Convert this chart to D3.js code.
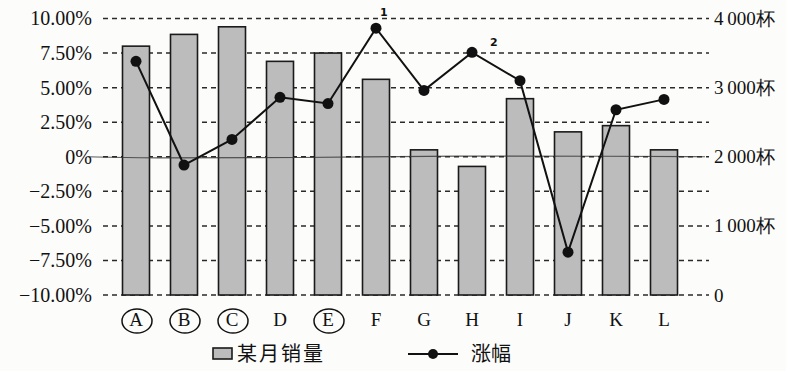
<!DOCTYPE html>
<html>
<head>
<meta charset="utf-8">
<script src="https://cdn.jsdelivr.net/npm/d3@7"></script>
<style>
  html, body { margin: 0; padding: 0; background: #fcfcfb; }
  svg { display: block; }
  .tick text { font-family: "Liberation Serif", "Times New Roman", serif; fill: #111; }
</style>
</head>
<body>
<svg id="chart" width="786" height="371"></svg>
<script>
// Categories and series
const categories = ["A","B","C","D","E","F","G","H","I","J","K","L"];
const sales = [3600, 3770, 3880, 3380, 3500, 3120, 2100, 1860, 2840, 2360, 2450, 2100]; // 某月销量 (杯)
const growth = [6.9, -0.6, 1.25, 4.3, 3.85, 9.3, 4.8, 7.55, 5.5, -6.9, 3.4, 4.15]; // 涨幅 (%)
const leftTicks = [-10, -7.5, -5, -2.5, 0, 2.5, 5, 7.5, 10];
const rightTicks = [0, 1000, 2000, 3000, 4000];
const gridTicks = [-10, -7.5, -5, -2.5, 0, 2.5, 5, 7.5, 10];
const circled = ["A","B","C","E"];
const notes = [{cat: "F", text: "1"}, {cat: "H", text: "2"}];

const svg = d3.select("#chart");
const plotTop = 18.5, plotBottom = 295, gridLeft = 103, gridRight = 709;

const x = d3.scaleBand().domain(categories).range([112, 688])
  .paddingInner(0.4375).paddingOuter(0.21875);
const yL = d3.scaleLinear().domain([-10, 10]).range([plotBottom, plotTop]);
const yR = d3.scaleLinear().domain([0, 4000]).range([plotBottom, plotTop]);

// dashed grid lines
svg.append("g").selectAll("line").data(gridTicks).join("line")
  .attr("x1", gridLeft).attr("x2", gridRight)
  .attr("y1", d => yL(d)).attr("y2", d => yL(d))
  .attr("stroke", "#2a2a2a").attr("stroke-width", 1.5)
  .attr("stroke-dasharray", "5,4");

// bars
svg.append("g").selectAll("rect").data(categories).join("rect")
  .attr("x", d => x(d))
  .attr("y", (d, i) => yR(sales[i]))
  .attr("width", x.bandwidth())
  .attr("height", (d, i) => yR(0) - yR(sales[i]))
  .attr("fill", "#bcbcbc")
  .attr("stroke", "#1a1a1a").attr("stroke-width", 1.6);

// pen line along 0%
svg.append("path")
  .attr("d", d3.line().curve(d3.curveBasis)([[88, yL(0)], [140, yL(0) + 1.5], [300, yL(0) + 1], [460, yL(0) - 1], [620, yL(0) - 0.5], [705, yL(0)]]))
  .attr("fill", "none").attr("stroke", "#333").attr("stroke-width", 1.2).attr("opacity", 0.8);

// left axis
const fmtL = d => d === 0 ? "0%" : (d < 0 ? "\u2212" : "") + Math.abs(d).toFixed(2) + "%";
const axL = svg.append("g").attr("transform", "translate(92,0)")
  .call(d3.axisLeft(yL).tickValues(leftTicks).tickSize(0).tickPadding(0).tickFormat(fmtL));
axL.select(".domain").remove();
axL.selectAll("text").style("font-size", "20px");

// right axis
const fmtR = d => d === 0 ? "0" : d3.format(",")(d).replace(",", "\u2009") + "杯";
const axR = svg.append("g").attr("transform", "translate(714,0)")
  .call(d3.axisRight(yR).tickValues(rightTicks).tickSize(0).tickPadding(0).tickFormat(fmtR));
axR.select(".domain").remove();
axR.selectAll("text").style("font-size", "19px");

// category axis
const axX = svg.append("g").attr("transform", `translate(0,${plotBottom + 10})`)
  .call(d3.axisBottom(x).tickSize(0).tickPadding(8));
axX.select(".domain").remove();
axX.selectAll("text").style("font-size", "19px");

// circled category labels
svg.append("g").selectAll("ellipse").data(circled).join("ellipse")
  .attr("cx", d => x(d) + x.bandwidth() / 2 + 1)
  .attr("cy", 321)
  .attr("rx", 15).attr("ry", 12)
  .attr("fill", "none").attr("stroke", "#111").attr("stroke-width", 1.5);

// growth line
const pts = categories.map((c, i) => [x(c) + x.bandwidth() / 2, yL(growth[i])]);
svg.append("path").attr("d", d3.line()(pts))
  .attr("fill", "none").attr("stroke", "#111").attr("stroke-width", 2);
svg.append("g").selectAll("circle").data(pts).join("circle")
  .attr("cx", d => d[0]).attr("cy", d => d[1]).attr("r", 5.5).attr("fill", "#111");

// small handwritten marks
svg.append("g").selectAll("text").data(notes).join("text")
  .attr("x", d => x(d.cat) + x.bandwidth() / 2 + (d.text === "1" ? 4 : 18))
  .attr("y", (d) => yL(growth[categories.indexOf(d.cat)]) - (d.text === "1" ? 12 : 6))
  .attr("font-family", "DejaVu Sans, sans-serif").attr("font-weight", "bold")
  .attr("font-size", 11).attr("fill", "#111")
  .text(d => d.text);

// legend
const lg = svg.append("g");
lg.append("rect").attr("x", 213).attr("y", 348).attr("width", 19).attr("height", 11)
  .attr("fill", "#bcbcbc").attr("stroke", "#1a1a1a").attr("stroke-width", 1.6);
lg.append("text").attr("x", 237).attr("y", 361)
  .attr("font-family", "Noto Sans CJK SC, sans-serif").attr("font-size", 20)
  .attr("letter-spacing", 2).attr("fill", "#111").text("某月销量");
lg.append("line").attr("x1", 408).attr("x2", 458).attr("y1", 354).attr("y2", 354)
  .attr("stroke", "#111").attr("stroke-width", 2);
lg.append("circle").attr("cx", 433).attr("cy", 354).attr("r", 5).attr("fill", "#111");
lg.append("text").attr("x", 471).attr("y", 361)
  .attr("font-family", "Noto Sans CJK SC, sans-serif").attr("font-size", 20)
  .attr("fill", "#111").text("涨幅");
</script>
</body>
</html>
